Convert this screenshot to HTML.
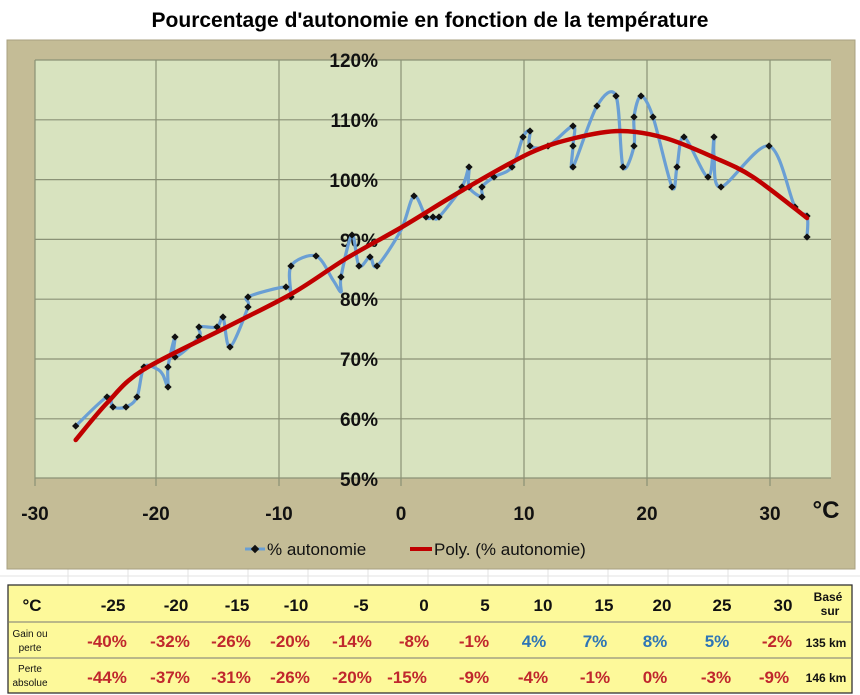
<!DOCTYPE html>
<html><head><meta charset="utf-8"><style>
body{margin:0;background:#fff;width:860px;height:695px;overflow:hidden}
svg{display:block}
</style></head><body>
<svg id="s" width="860" height="695" xmlns="http://www.w3.org/2000/svg" font-family="Liberation Sans, sans-serif">
<rect x="0" y="0" width="860" height="695" fill="#fff"/>
<g stroke="#e3e3e3" stroke-width="1">
<line x1="0" y1="576" x2="860" y2="576"/>
<line x1="68" y1="569" x2="68" y2="585"/><line x1="128" y1="569" x2="128" y2="585"/><line x1="188" y1="569" x2="188" y2="585"/><line x1="248" y1="569" x2="248" y2="585"/><line x1="308" y1="569" x2="308" y2="585"/><line x1="368" y1="569" x2="368" y2="585"/><line x1="428" y1="569" x2="428" y2="585"/><line x1="488" y1="569" x2="488" y2="585"/><line x1="548" y1="569" x2="548" y2="585"/><line x1="608" y1="569" x2="608" y2="585"/><line x1="668" y1="569" x2="668" y2="585"/><line x1="728" y1="569" x2="728" y2="585"/><line x1="788" y1="569" x2="788" y2="585"/>
</g>
<text x="430" y="27" text-anchor="middle" font-size="21" font-weight="bold" fill="#000">Pourcentage d'autonomie en fonction de la température</text>
<rect x="7" y="40" width="848" height="529" fill="#c4bc96" stroke="#a8a080"/>
<rect x="35" y="60" width="796" height="418" fill="#d8e3bf"/>
<g stroke="#8a9276" stroke-width="1.2">
<line x1="35" y1="60" x2="831" y2="60"/><line x1="35" y1="119.8" x2="831" y2="119.8"/><line x1="35" y1="179.6" x2="831" y2="179.6"/><line x1="35" y1="239.4" x2="831" y2="239.4"/><line x1="35" y1="299.2" x2="831" y2="299.2"/><line x1="35" y1="359" x2="831" y2="359"/><line x1="35" y1="418.8" x2="831" y2="418.8"/><line x1="35" y1="478" x2="831" y2="478"/>
<line x1="35" y1="60" x2="35" y2="486"/><line x1="156" y1="60" x2="156" y2="486"/><line x1="279" y1="60" x2="279" y2="486"/><line x1="401" y1="60" x2="401" y2="486"/><line x1="524" y1="60" x2="524" y2="486"/><line x1="647" y1="60" x2="647" y2="486"/><line x1="770" y1="60" x2="770" y2="486"/>
</g>
<g font-size="19" font-weight="bold" fill="#111" text-anchor="end">
<text x="378" y="67">120%</text><text x="378" y="127">110%</text><text x="378" y="187">100%</text><text x="378" y="247">90%</text><text x="378" y="306">80%</text><text x="378" y="366">70%</text><text x="378" y="426">60%</text><text x="378" y="486">50%</text>
</g>
<g font-size="19" font-weight="bold" fill="#111" text-anchor="middle">
<text x="35" y="520">-30</text><text x="156" y="520">-20</text><text x="279" y="520">-10</text><text x="401" y="520">0</text><text x="524" y="520">10</text><text x="647" y="520">20</text><text x="770" y="520">30</text>
<text x="826" y="518" font-size="24">°C</text>
</g>
<path id="blue" fill="none" stroke="#6a9fd4" stroke-width="3.2" stroke-linejoin="round"/>
<g id="marks" fill="#111"></g>
<path id="red" fill="none" stroke="#c00000" stroke-width="4.5" stroke-linecap="round"/>
<line x1="245" y1="549" x2="265" y2="549" stroke="#6a9fd4" stroke-width="3"/>
<rect x="252" y="546" width="6" height="6" transform="rotate(45 255 549)" fill="#111"/>
<text x="267" y="555" font-size="17" fill="#111">% autonomie</text>
<line x1="410" y1="549" x2="432" y2="549" stroke="#c00000" stroke-width="4"/>
<text x="434" y="555" font-size="17" fill="#111">Poly. (% autonomie)</text>
<rect x="8" y="585" width="844" height="108" fill="#fdf99a" stroke="#333" stroke-width="1.3"/>
<line x1="8" y1="622" x2="852" y2="622" stroke="#777" stroke-width="1"/>
<line x1="8" y1="658" x2="852" y2="658" stroke="#777" stroke-width="1"/>
<g font-size="17" font-weight="bold" fill="#111" text-anchor="middle">
<text x="32" y="611">°C</text>
<text x="113" y="611">-25</text><text x="176" y="611">-20</text><text x="237" y="611">-15</text><text x="296" y="611">-10</text><text x="361" y="611">-5</text><text x="424" y="611">0</text><text x="485" y="611">5</text><text x="543" y="611">10</text><text x="604" y="611">15</text><text x="662" y="611">20</text><text x="722" y="611">25</text><text x="783" y="611">30</text>
<text x="828" y="601" font-size="12">Basé</text><text x="830" y="615" font-size="12">sur</text>
<text x="826" y="647" font-size="12">135 km</text><text x="826" y="682" font-size="12">146 km</text>
</g>
<g font-size="10" fill="#111" text-anchor="middle">
<text x="30" y="637">Gain ou</text><text x="30" y="651">perte</text>
<text x="30" y="672">Perte</text><text x="30" y="686">absolue</text>
</g>
<g font-size="17" font-weight="bold" text-anchor="middle" fill="#c0272d">
<text x="107" y="647">-40%</text><text x="170" y="647">-32%</text><text x="231" y="647">-26%</text><text x="290" y="647">-20%</text><text x="352" y="647">-14%</text><text x="414" y="647">-8%</text><text x="474" y="647">-1%</text>
<text x="534" y="647" fill="#2e75b6">4%</text><text x="595" y="647" fill="#2e75b6">7%</text><text x="655" y="647" fill="#2e75b6">8%</text><text x="717" y="647" fill="#2e75b6">5%</text><text x="777" y="647">-2%</text>
<text x="107" y="683">-44%</text><text x="170" y="683">-37%</text><text x="231" y="683">-31%</text><text x="290" y="683">-26%</text><text x="352" y="683">-20%</text><text x="407" y="683">-15%</text><text x="474" y="683">-9%</text><text x="533" y="683">-4%</text><text x="595" y="683">-1%</text><text x="655" y="683">0%</text><text x="716" y="683">-3%</text><text x="774" y="683">-9%</text>
</g>
</svg>
<script>
var b=[[75.7,426],[107,397],[113,407],[126,407],[137,397],[144,367],[157,369],[163,375],[168,387],[168,367],[175,337],[175,357],[199,337],[199,327],[217,327],[223,317],[230,347],[248,307],[248,297],[286,287],[291,297],[291,266],[316,256],[333,280],[341,292],[341,277],[352,235],[359,266],[370,257],[377,266],[401,230],[414,196],[426,217],[433,217],[439,217],[462,187],[469,167],[469,187],[482,197],[482,187],[494,177],[512,167],[523,137],[530,131],[530,146],[548,146],[573,126],[573,146],[573,167],[597,106],[616,96],[623,167],[634,146],[634,117],[641,96],[653,117],[672,187],[677,167],[684,137],[708,177],[714,137],[714,155],[721,187],[769,146],[795,207],[807,216],[807,237]];
var r=[[75.7,440],[107,403],[143,370],[227,327],[293,293],[347,258],[402,227],[463,190],[530,153],[575,138],[620,131],[665,138],[713,157],[753,177],[807,218]];
function cr(p){var d="M"+p[0][0]+","+p[0][1];for(var i=0;i<p.length-1;i++){var p0=p[i-1]||p[i],p1=p[i],p2=p[i+1],p3=p[i+2]||p2;var t=0.16;d+=" C"+(p1[0]+(p2[0]-p0[0])*t)+","+(p1[1]+(p2[1]-p0[1])*t)+" "+(p2[0]-(p3[0]-p1[0])*t)+","+(p2[1]-(p3[1]-p1[1])*t)+" "+p2[0]+","+p2[1];}return d;}
document.getElementById("blue").setAttribute("d",cr(b));
document.getElementById("red").setAttribute("d",cr(r));
var g=document.getElementById("marks"),h="";
b.forEach(function(p){if(p[0]==157||p[0]==163||p[0]==333||p[0]==341&&p[1]==292||p[0]==401||p[0]==714&&p[1]==155)return;h+='<rect x="'+(p[0]-2.6)+'" y="'+(p[1]-2.6)+'" width="5.2" height="5.2" transform="rotate(45 '+p[0]+' '+p[1]+')"/>';});
g.innerHTML=h;
</script>
</body></html>
